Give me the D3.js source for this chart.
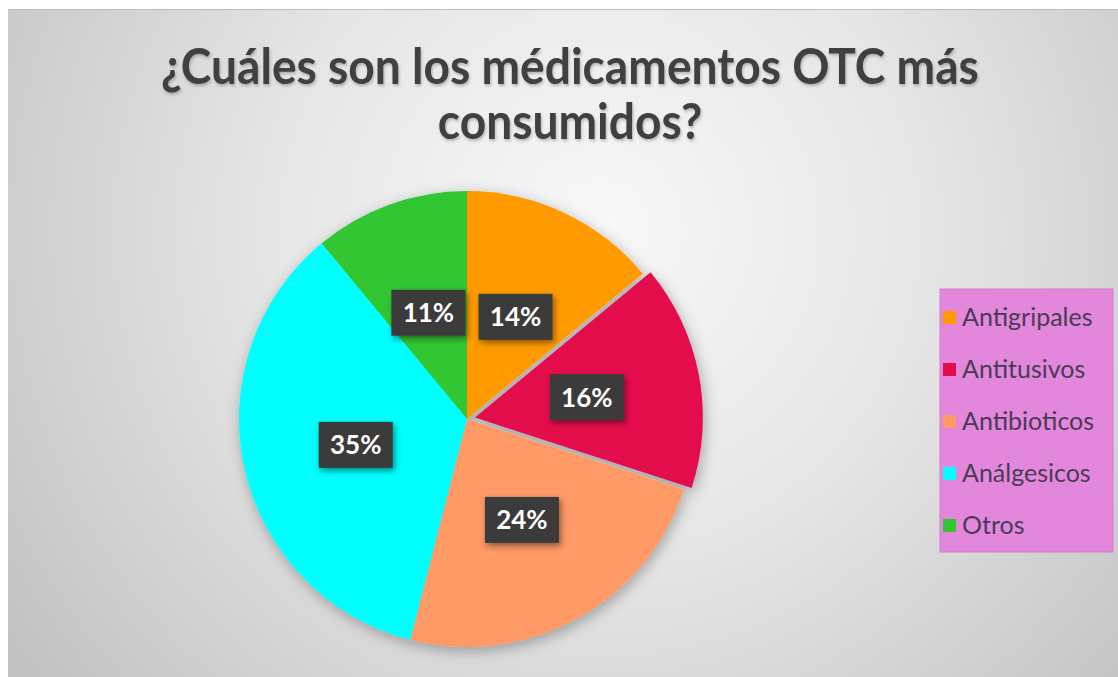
<!DOCTYPE html>
<html>
<head>
<meta charset="utf-8">
<script src="https://cdn.jsdelivr.net/npm/d3@7"></script>
<style>
  html, body { margin: 0; padding: 0; background: #ffffff; }
  svg { display: block; }
</style>
</head>
<body>
<svg id="chart"></svg>
<script>
const categories = ["Antigripales", "Antitusivos", "Antibioticos", "Análgesicos", "Otros"];
const values = [14, 16, 24, 35, 11];
const sliceColours = ["#ff9a00", "#e40b4b", "#ff9966", "#00ffff", "#33c633"];
const explodedIndex = 1;
const titleLines = ["¿Cuáles son los médicamentos OTC más", "consumidos?"];

const width = 1118;
const height = 677;
const centre = {"x": 467, "y": 419};
const radius = 228;
const explode = 8;

let svg = d3.select('#chart')
	.attr('width', width)
	.attr('height', height);

let defs = svg.append('defs');

let bg = defs.append('radialGradient')
	.attr('id', 'bg')
	.attr('gradientUnits', 'userSpaceOnUse')
	.attr('cx', 600).attr('cy', 230).attr('r', 720);
bg.append('stop').attr('offset', '0%').attr('stop-color', '#f8f8f8');
bg.append('stop').attr('offset', '45%').attr('stop-color', '#e6e6e6');
bg.append('stop').attr('offset', '100%').attr('stop-color', '#c2c2c2');

let pieShadow = defs.append('filter').attr('id', 'pieShadow')
	.attr('x', '-20%').attr('y', '-20%').attr('width', '140%').attr('height', '140%');
pieShadow.append('feDropShadow')
	.attr('dx', 2).attr('dy', 4).attr('stdDeviation', 7)
	.attr('flood-color', '#000').attr('flood-opacity', 0.3);

let boxShadow = defs.append('filter').attr('id', 'boxShadow')
	.attr('x', '-30%').attr('y', '-30%').attr('width', '160%').attr('height', '160%');
boxShadow.append('feDropShadow')
	.attr('dx', 2).attr('dy', 3).attr('stdDeviation', 3)
	.attr('flood-color', '#000').attr('flood-opacity', 0.45);

let textShadow = defs.append('filter').attr('id', 'textShadow');
textShadow.append('feDropShadow')
	.attr('dx', 1).attr('dy', 2).attr('stdDeviation', 1.5)
	.attr('flood-color', '#000').attr('flood-opacity', 0.25);

// background panel
svg.append('rect')
	.attr('x', 8).attr('y', 9)
	.attr('width', width - 8).attr('height', height - 9)
	.attr('fill', 'url(#bg)');
svg.append('line')
	.attr('x1', 8).attr('x2', width).attr('y1', 9.5).attr('y2', 9.5)
	.attr('stroke', '#bdbdbd').attr('stroke-width', 1);

// title (narrowed horizontally to mimic a condensed face)
let titleOuter = svg.append('g').attr('filter', 'url(#textShadow)');
let title = titleOuter.append('g');
titleLines.forEach(function(line, i){
	title.append('text')
		.attr('x', 0)
		.attr('y', 84 + i * 55)
		.attr('text-anchor', 'middle')
		.attr('font-family', 'Lato, "Open Sans", sans-serif')
		.attr('font-weight', 'bold')
		.attr('font-size', 50)
		.attr('fill', '#404040')
		.text(line);
});
let w = title.select('text').node().getComputedTextLength();
title.attr('transform', 'translate(570,0) scale(' + (818 / w) + ',1)');

// pie
let pie = d3.pie()
	.sort(null)
	.value(function(d){ return d; });

let arc = d3.arc()
	.innerRadius(0)
	.outerRadius(radius);

let arcs = pie(values);

let container = svg.append('g')
	.attr('transform', 'translate(' + centre.x + ',' + centre.y + ')');

function offset(d, i){
	if (i !== explodedIndex) return [0, 0];
	let mid = (d.startAngle + d.endAngle) / 2;
	return [Math.sin(mid) * explode, -Math.cos(mid) * explode];
}

container.append('g')
	.attr('filter', 'url(#pieShadow)')
	.selectAll('path')
	.data(arcs)
	.enter()
	.append('path')
	.attr('transform', function(d, i){
		let o = offset(d, i);
		return 'translate(' + o[0] + ',' + o[1] + ')';
	})
	.attr('d', arc)
	.attr('fill', function(d, i){ return sliceColours[i]; });

// data labels
let labels = container.selectAll('g.label')
	.data(arcs)
	.enter()
	.append('g')
	.classed('label', true)
	.attr('transform', function(d, i){
		let c = arc.centroid(d);
		let o = offset(d, i);
		return 'translate(' + (c[0] + o[0]) + ',' + (c[1] + o[1] + 1) + ')';
	});

labels.append('rect')
	.attr('x', -37).attr('y', -23)
	.attr('width', 74).attr('height', 46)
	.attr('fill', '#3a3a3a')
	.attr('filter', 'url(#boxShadow)');

labels.append('text')
	.attr('text-anchor', 'middle')
	.attr('dy', '0.36em')
	.attr('font-family', 'Lato, "Open Sans", sans-serif')
	.attr('font-weight', 'bold')
	.attr('font-size', 26)
	.attr('fill', '#ffffff')
	.text(function(d){ return d.data + '%'; });

// legend
let legend = svg.append('g')
	.attr('transform', 'translate(940,289)');

legend.append('rect')
	.attr('width', 173).attr('height', 263)
	.attr('fill', '#e387dc')
	.attr('stroke', '#d57ccf').attr('stroke-width', 1);

let items = legend.selectAll('g.item')
	.data(categories)
	.enter()
	.append('g')
	.classed('item', true)
	.attr('transform', function(d, i){
		return 'translate(0,' + (28 + i * 52) + ')';
	});

items.append('rect')
	.attr('x', 3).attr('y', -6)
	.attr('width', 13).attr('height', 13)
	.attr('fill', function(d, i){ return sliceColours[i]; });

items.append('text')
	.attr('x', 22)
	.attr('dy', '0.35em')
	.attr('font-family', 'Lato, "Open Sans", sans-serif')
	.attr('font-size', 25)
	.attr('fill', '#4a3b55')
	.text(function(d){ return d; });
</script>
</body>
</html>
